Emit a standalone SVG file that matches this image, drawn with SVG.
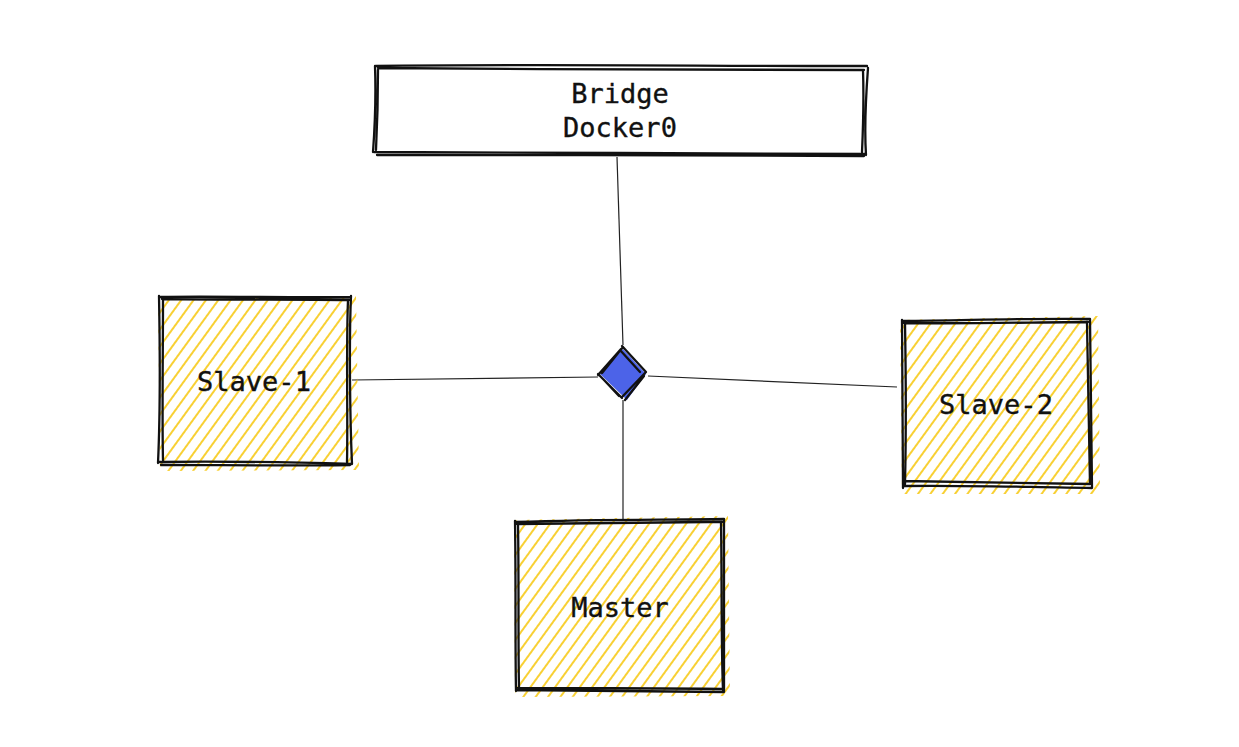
<svg xmlns="http://www.w3.org/2000/svg" width="1239" height="747" viewBox="0 0 1239 747">
  <style>
    .stroke { fill: none; stroke: #111; stroke-width: 2.3; stroke-linecap: round; stroke-linejoin: round; }
    .conn { fill: none; stroke: #222; stroke-width: 1.2; }
    .label { font-family: "DejaVu Sans Mono", "Liberation Mono", monospace; font-size: 27px; fill: #111; stroke: #111; stroke-width: 0.35; text-anchor: middle; }
    .hatch { fill: url(#hachure); }
  </style>
  <defs>
    <pattern id="hachure" patternUnits="userSpaceOnUse" width="10" height="10" patternTransform="rotate(-54)">
      <line x1="0" y1="3" x2="10" y2="3" stroke="#f7c400" stroke-width="1.6"/>
    </pattern>
  </defs>
  <rect width="1239" height="747" fill="#ffffff"/>

  <g id="connectors">
    <path class="conn" d="M617 157 L623 345"/>
    <path class="conn" d="M352 380 L598 377"/>
    <path class="conn" d="M648 376 L897 387"/>
    <path class="conn" d="M623 400 L623 521"/>
  </g>

  <g id="bridge">
    <path class="stroke" d="M376 66 C520 64 700 66 867 66 M378 68 C540 70 700 69 864 70 M868 68 C866 95 864 125 866 155 M863 70 C864 100 863 130 862 152 M866 154 C700 152 540 154 374 152 M864 156 C700 155 540 155 377 155 M375 66 C376 95 375 125 373 152 M378 70 C378 100 377 130 376 150"/>
    <text class="label" x="620" y="103">Bridge</text>
    <text class="label" x="620" y="137">Docker0</text>
  </g>

  <g id="slave1">
    <path class="hatch" d="M158 300 L356 296 L359 470 L160 471 Z"/>
    <path class="stroke" d="M160 297 C220 296 300 298 351 297 M162 299 C240 300 300 299 349 300 M351 296 C349 340 350 420 352 464 M348 300 C346 350 348 420 347 462 M352 464 C280 462 220 461 159 462 M350 465 C280 466 220 465 161 465 M159 296 C160 350 160 420 158 463 M163 299 C163 350 162 420 163 460"/>
    <text class="label" x="254" y="391">Slave-1</text>
  </g>

  <g id="slave2">
    <path class="hatch" d="M900 320 L1098 316 L1100 494 L902 494 Z"/>
    <path class="stroke" d="M902 321 C980 320 1040 318 1090 319 M904 323 C980 324 1040 322 1088 322 M1090 319 C1091 380 1091 440 1092 488 M1087 322 C1088 380 1089 440 1090 484 M1092 488 C1020 487 960 485 904 486 M1090 484 C1020 483 960 482 903 481 M902 320 C902 380 903 440 903 488 M905 323 C906 380 906 440 905 484"/>
    <text class="label" x="996" y="414">Slave-2</text>
  </g>

  <g id="master">
    <path class="hatch" d="M514 520 L728 516 L730 696 L515 697 Z"/>
    <path class="stroke" d="M515 522 C600 519 660 520 724 519 M517 524 C600 523 660 522 722 522 M724 519 C724 580 724 640 724 692 M721 522 C722 580 721 640 723 690 M724 692 C650 691 580 691 516 690 M722 689 C650 688 580 688 518 688 M515 521 C516 580 515 640 516 691 M518 524 C519 580 518 640 519 688"/>
    <text class="label" x="620" y="617">Master</text>
  </g>

  <g id="junction">
    <path d="M623 349 L646 374 L627 400 L600 374 Z" fill="#4c63e8"/>
    <path class="stroke" d="M622 346 L646 372 M620 350 L640 372 M646 372 L622 397 M644 376 L625 400 M622 398 L598 374 M619 396 L604 380 M598 375 L621 349 M602 373 L623 347"/>
  </g>
</svg>
